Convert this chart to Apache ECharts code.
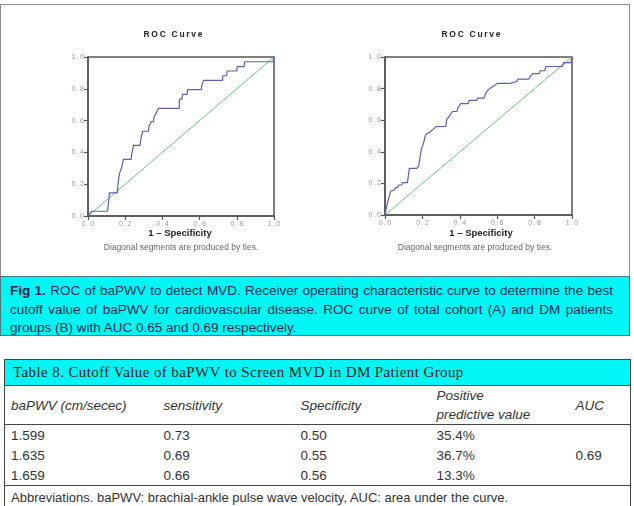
<!DOCTYPE html>
<html>
<head>
<meta charset="utf-8">
<script src="https://cdn.jsdelivr.net/npm/echarts@6/dist/echarts.min.js"></script>
<style>
  html, body { margin: 0; padding: 0; background: #fff; }
  body { width: 634px; height: 506px; position: relative; overflow: hidden; font-family: "Liberation Sans", Arial, sans-serif; }
  #frame { position: absolute; left: 0; top: 4px; width: 628px; height: 272px; border: 1.5px solid #8c8c8c; border-bottom: none; }
  #chart { position: absolute; left: 0; top: 0; width: 634px; height: 277px; }
  #caption { position: absolute; left: 0; top: 276px; height: 60px; background: #00f5f5; border: 1.5px solid #3f7d80;
    color: #1d2b55; font-size: 13.5px; padding: 0 0 0 9px; box-sizing: border-box; width: 630px; }
  #caption .ln { width: 603px; height: 18.5px; line-height: 18.5px; text-align: justify; text-align-last: justify; white-space: nowrap; }
  #caption .ln.last { text-align-last: left; }
  #caption .ln:first-child { margin-top: 5px; }
  #caption b { font-weight: bold; color: #1a2048; }
  #tbl { position: absolute; left: 4px; top: 359px; width: 626px; border-collapse: collapse; table-layout: fixed; color: #333; font-size: 13.5px; }
  #tbl td { padding: 0 0 0 6px; border: none; white-space: nowrap; }
  #tbl .title td { background: #00f5f5; height: 25px; font-family: "Liberation Serif", "DejaVu Serif", serif; font-size: 15px; letter-spacing: 0.4px; color: #222; padding-left: 8px;
    border: 1.5px solid #444; }
  #tbl .head td { height: 38px; font-style: italic; border-bottom: 1.2px solid #444; line-height: 19px; }
  #tbl .data td { height: 20px; }
  #tbl .data.lastrow td { border-bottom: 1.2px solid #444; }
  #tbl .abbr td { height: 22px; font-size: 13px; }
  #tbl td.lb { border-left: 1.5px solid #444; }
  #tbl td.rb { border-right: 1.5px solid #444; }
</style>
</head>
<body>
<div id="frame"></div>
<div id="chart"></div>
<div id="caption"></div>
<table id="tbl"></table>
<script>
// ROC curve A (total cohort): 1 - specificity / sensitivity vertices
const fprA = [0, 0.02, 0.105, 0.112, 0.115, 0.158, 0.162, 0.168, 0.17, 0.178, 0.18, 0.188, 0.19, 0.232, 0.235, 0.242, 0.245, 0.28, 0.283, 0.29, 0.293, 0.325, 0.328, 0.338, 0.34, 0.352, 0.355, 0.365, 0.368, 0.375, 0.378, 0.49, 0.492, 0.505, 0.508, 0.533, 0.535, 0.61, 0.612, 0.62, 0.622, 0.723, 0.725, 0.745, 0.748, 0.8, 0.802, 0.84, 0.842, 0.995, 1];
const tprA = [0, 0.03, 0.03, 0.10, 0.146, 0.146, 0.21, 0.21, 0.27, 0.27, 0.30, 0.30, 0.356, 0.356, 0.387, 0.387, 0.444, 0.444, 0.477, 0.477, 0.533, 0.533, 0.565, 0.565, 0.594, 0.594, 0.623, 0.623, 0.65, 0.65, 0.677, 0.677, 0.735, 0.735, 0.765, 0.765, 0.795, 0.795, 0.825, 0.825, 0.853, 0.853, 0.882, 0.882, 0.912, 0.912, 0.94, 0.94, 0.97, 0.97, 1];
// ROC curve B (DM patients)
const fprB = [0, 0.008, 0.015, 0.03, 0.04, 0.05, 0.055, 0.068, 0.072, 0.09, 0.095, 0.12, 0.13, 0.17, 0.18, 0.188, 0.195, 0.205, 0.215, 0.225, 0.24, 0.26, 0.275, 0.325, 0.33, 0.345, 0.36, 0.385, 0.39, 0.405, 0.445, 0.45, 0.49, 0.495, 0.53, 0.535, 0.545, 0.56, 0.58, 0.6, 0.67, 0.675, 0.705, 0.71, 0.77, 0.775, 0.79, 0.825, 0.83, 0.855, 0.86, 0.95, 0.955, 0.995, 1, 1];
const tprB = [0, 0.05, 0.085, 0.15, 0.158, 0.158, 0.173, 0.173, 0.19, 0.19, 0.205, 0.205, 0.295, 0.295, 0.31, 0.37, 0.42, 0.45, 0.5, 0.515, 0.525, 0.545, 0.56, 0.56, 0.605, 0.625, 0.655, 0.655, 0.68, 0.705, 0.705, 0.725, 0.725, 0.74, 0.74, 0.76, 0.785, 0.80, 0.815, 0.833, 0.833, 0.845, 0.845, 0.86, 0.86, 0.875, 0.895, 0.895, 0.913, 0.913, 0.94, 0.94, 0.965, 0.965, 0.965, 1];
const refLine = [0, 1];

// table 8
const colHeads = ['baPWV (cm/secec)', 'sensitivity', 'Specificity', 'Positive<br>predictive value', 'AUC'];
const cutoffs = ['1.599', '1.635', '1.659'];
const sensitivity = ['0.73', '0.69', '0.66'];
const specificity = ['0.50', '0.55', '0.56'];
const ppv = ['35.4%', '36.7%', '13.3%'];
const auc = '0.69';

const captionLines = [
  '<b>Fig 1.</b> ROC of baPWV to detect MVD. Receiver operating characteristic curve to determine the best',
  'cutoff value of baPWV for cardiovascular disease. ROC curve of total cohort (A) and DM patients',
  'groups (B) with AUC 0.65 and 0.69 respectively.'
];

document.getElementById('caption').innerHTML = captionLines.map((t, i) =>
  '<div class="ln' + (i === captionLines.length - 1 ? ' last' : '') + '">' + t + '</div>').join('');

let html = '<colgroup><col style="width:153px"><col style="width:137px"><col style="width:136px"><col style="width:139px"><col style="width:61px"></colgroup>';
html += '<tr class="title"><td colspan="5">Table 8. Cutoff Value of baPWV to Screen MVD in DM Patient Group</td></tr>';
html += '<tr class="head">' + colHeads.map((h, i) => '<td class="' + (i === 0 ? 'lb' : i === 4 ? 'rb' : '') + '">' + h + '</td>').join('') + '</tr>';
cutoffs.forEach((c, i) => {
  html += '<tr class="data' + (i === cutoffs.length - 1 ? ' lastrow' : '') + '"><td class="lb">' + c + '</td><td>' + sensitivity[i] + '</td><td>' + specificity[i] + '</td><td>' + ppv[i] + '</td>';
  if (i === 0) html += '<td class="rb" rowspan="3" style="border-bottom:1.2px solid #444">' + auc + '</td>';
  html += '</tr>';
});
html += '<tr class="abbr"><td class="lb rb" colspan="5">Abbreviations. baPWV: brachial-ankle pulse wave velocity, AUC: area under the curve.</td></tr>';
document.getElementById('tbl').innerHTML = html;

const chart = echarts.init(document.getElementById('chart'));
const font = 'Liberation Sans, Arial, sans-serif';
const spaced = s => s.split('').join('\u2009');

const makeAxis = (gi, isX) => ({
  type: 'value', gridIndex: gi, min: 0, max: 1, interval: 0.2,
  axisLine: { show: true, lineStyle: { color: '#555', width: 1.5 } },
  axisTick: { show: true, length: 4, lineStyle: { color: '#555', width: 1.2 } },
  axisLabel: { fontSize: 7, color: '#999', fontFamily: font, margin: isX ? 5 : 4, formatter: v => spaced(v.toFixed(1)) },
  splitLine: { show: false }
});

const grids = [
  { left: 88, top: 57, width: 186, height: 159 },
  { left: 385, top: 57, width: 187, height: 158 }
];

const textEl = (x, y, text, size, weight, color) => ({
  type: 'text', x: x, y: y,
  style: { text: text, fontSize: size, fontWeight: weight, fill: color, fontFamily: font, textAlign: 'center', textVerticalAlign: 'middle' }
});

chart.setOption({
  animation: false,
  grid: grids.map(g => Object.assign({ show: true, borderColor: '#555', borderWidth: 1.5, backgroundColor: 'transparent' }, g)),
  xAxis: [makeAxis(0, true), makeAxis(1, true)],
  yAxis: [makeAxis(0, false), makeAxis(1, false)],
  graphic: [
    textEl(173, 35, spaced('ROC Curve'), 8.5, 'bold', '#222'),
    textEl(471, 35, spaced('ROC Curve'), 8.5, 'bold', '#222'),
    textEl(180, 233, '1 – Specificity', 9.5, 'bold', '#222'),
    textEl(481, 233, '1 – Specificity', 9.5, 'bold', '#222'),
    textEl(181, 248, 'Diagonal segments are produced by ties.', 8.5, 'normal', '#666'),
    textEl(475, 248, 'Diagonal segments are produced by ties.', 8.5, 'normal', '#666')
  ],
  series: [
    { type: 'line', xAxisIndex: 0, yAxisIndex: 0, symbol: 'none', lineStyle: { color: '#63c67b', width: 1 }, data: refLine.map(v => [v, v]) },
    { type: 'line', xAxisIndex: 0, yAxisIndex: 0, symbol: 'none', lineStyle: { color: '#5b5fae', width: 1.2 }, data: fprA.map((x, i) => [x, tprA[i]]) },
    { type: 'line', xAxisIndex: 1, yAxisIndex: 1, symbol: 'none', lineStyle: { color: '#63c67b', width: 1 }, data: refLine.map(v => [v, v]) },
    { type: 'line', xAxisIndex: 1, yAxisIndex: 1, symbol: 'none', lineStyle: { color: '#5b5fae', width: 1.2 }, data: fprB.map((x, i) => [x, tprB[i]]) }
  ]
});
</script>
</body>
</html>
